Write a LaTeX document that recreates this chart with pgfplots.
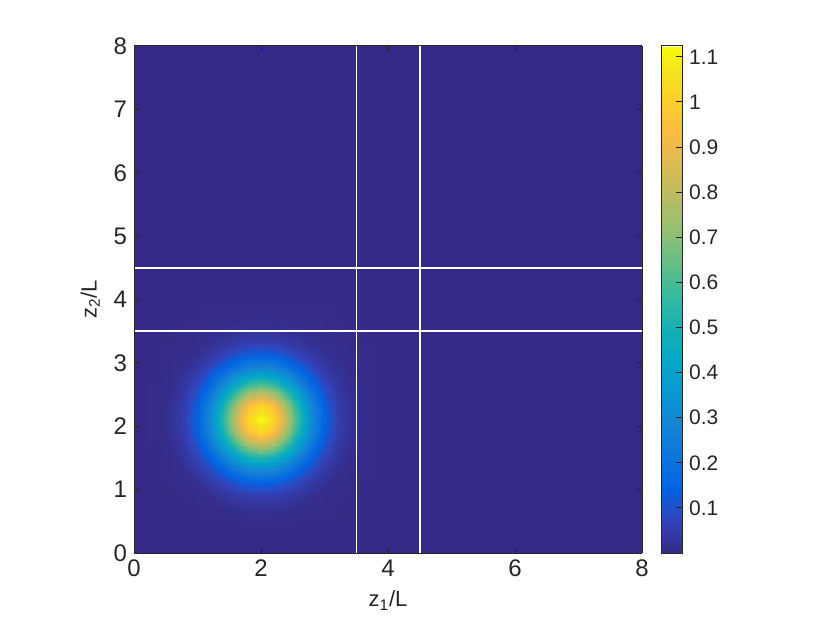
\documentclass[border=0pt]{standalone}
\usepackage{fontspec}
\setmainfont{Liberation Sans}
\usepackage{pgfplots}
\pgfplotsset{compat=1.18}
\usepgfplotslibrary{patchplots}
\pgfplotsset{/pgf/number format/assume math mode=true}
\definecolor{axgray}{RGB}{38,38,38}
\begin{document}
\begin{tikzpicture}
\path[use as bounding box] (0,0) rectangle (415pt,311.5pt);
\begin{axis}[
  at={(67pt,35pt)}, anchor=south west,
  scale only axis, width=254pt, height=253.5pt,
  view={0}{90},
  xmin=0, xmax=8, ymin=0, ymax=8,
  xtick={0,2,4,6,8}, ytick={0,1,2,3,4,5,6,7,8},
  tick align=inside,
  major tick length=2.5pt,
  axis on top,
  axis line style={draw=axgray, line width=0.5pt},
  every tick/.style={axgray, line width=0.5pt},
  ticklabel style={font=\fontsize{12}{14}\selectfont, text=axgray},
  xlabel={z\textsubscript{1}/L}, ylabel={z\textsubscript{2}/L},
  label style={font=\fontsize{11}{13}\selectfont, text=axgray},
  colormap={parula}{
    rgb(0cm)=(0.2081,0.1663,0.5292)
    rgb(4cm)=(0.1959,0.2645,0.7279)
    rgb(8cm)=(0.0117,0.3875,0.8820)
    rgb(12cm)=(0.0498,0.4586,0.8641)
    rgb(16cm)=(0.0793,0.5200,0.8312)
    rgb(20cm)=(0.0343,0.5966,0.8199)
    rgb(24cm)=(0.0228,0.6535,0.7768)
    rgb(28cm)=(0.0843,0.6928,0.7062)
    rgb(32cm)=(0.2178,0.7250,0.6193)
    rgb(36cm)=(0.3953,0.7459,0.5244)
    rgb(40cm)=(0.5709,0.7485,0.4494)
    rgb(44cm)=(0.7184,0.7411,0.3905)
    rgb(48cm)=(0.8507,0.7299,0.3360)
    rgb(52cm)=(0.9739,0.7314,0.2666)
    rgb(56cm)=(0.9880,0.8066,0.1794)
    rgb(60cm)=(0.9589,0.8949,0.1132)
    rgb(63cm)=(0.9763,0.9831,0.0538)
  },
  point meta min=0, point meta max=1.124,
  colorbar,
  colorbar style={
    at={(parent axis.north east)}, anchor=north west, xshift=1pt,
    width=10.5pt,
    ytick={0.1,0.2,0.3,0.4,0.5,0.6,0.7,0.8,0.9,1,1.1},
    ytick pos=right,
    tick align=inside,
    major tick length=3pt,
    axis line style={draw=axgray, line width=0.5pt},
    every tick/.style={axgray, line width=0.5pt},
    yticklabel style={font=\fontsize{10.5}{12}\selectfont, text=axgray},
  },
]
% background field (value 0)
\addplot3[surf, shader=flat, mesh/cols=2] coordinates {(0,0,0) (8,0,0) (0,8,0) (8,8,0)};
% blob
\addplot3[surf, shader=interp, patch type=bilinear, mesh/cols=19] coordinates {
(0.2,0.3,0) (0.4,0.3,0) (0.6,0.3,0) (0.8,0.3,0.0001) (1.0,0.3,0.0002) (1.2,0.3,0.0004) (1.4,0.3,0.0007) (1.6,0.3,0.0011) (1.8,0.3,0.0014) (2.0,0.3,0.0015) (2.2,0.3,0.0014) (2.4,0.3,0.0011) (2.6,0.3,0.0007) (2.8,0.3,0.0004) (3.0,0.3,0.0002) (3.2,0.3,0.0001) (3.4,0.3,0) (3.6,0.3,0) (3.8,0.3,0)
(0.2,0.5,0) (0.4,0.5,0) (0.6,0.5,0.0001) (0.8,0.5,0.0003) (1.0,0.5,0.0008) (1.2,0.5,0.0016) (1.4,0.5,0.0029) (1.6,0.5,0.0044) (1.8,0.5,0.0056) (2.0,0.5,0.0060) (2.2,0.5,0.0056) (2.4,0.5,0.0044) (2.6,0.5,0.0029) (2.8,0.5,0.0016) (3.0,0.5,0.0008) (3.2,0.5,0.0003) (3.4,0.5,0.0001) (3.6,0.5,0) (3.8,0.5,0)
(0.2,0.7,0) (0.4,0.7,0.0001) (0.6,0.7,0.0004) (0.8,0.7,0.0011) (1.0,0.7,0.0027) (1.2,0.7,0.0056) (1.4,0.7,0.0099) (1.6,0.7,0.0149) (1.8,0.7,0.0190) (2.0,0.7,0.0206) (2.2,0.7,0.0190) (2.4,0.7,0.0149) (2.6,0.7,0.0099) (2.8,0.7,0.0056) (3.0,0.7,0.0027) (3.2,0.7,0.0011) (3.4,0.7,0.0004) (3.6,0.7,0.0001) (3.8,0.7,0)
(0.2,0.9,0.0001) (0.4,0.9,0.0003) (0.6,0.9,0.0011) (0.8,0.9,0.0031) (1.0,0.9,0.0077) (1.2,0.9,0.0161) (1.4,0.9,0.0285) (1.6,0.9,0.0429) (1.8,0.9,0.0548) (2.0,0.9,0.0595) (2.2,0.9,0.0548) (2.4,0.9,0.0429) (2.6,0.9,0.0285) (2.8,0.9,0.0161) (3.0,0.9,0.0077) (3.2,0.9,0.0031) (3.4,0.9,0.0011) (3.6,0.9,0.0003) (3.8,0.9,0.0001)
(0.2,1.1,0.0002) (0.4,1.1,0.0008) (0.6,1.1,0.0027) (0.8,1.1,0.0077) (1.0,1.1,0.0190) (1.2,1.1,0.0396) (1.4,1.1,0.0700) (1.6,1.1,0.1053) (1.8,1.1,0.1346) (2.0,1.1,0.1460) (2.2,1.1,0.1346) (2.4,1.1,0.1053) (2.6,1.1,0.0700) (2.8,1.1,0.0396) (3.0,1.1,0.0190) (3.2,1.1,0.0077) (3.4,1.1,0.0027) (3.6,1.1,0.0008) (3.8,1.1,0.0002)
(0.2,1.3,0.0004) (0.4,1.3,0.0016) (0.6,1.3,0.0056) (0.8,1.3,0.0161) (1.0,1.3,0.0396) (1.2,1.3,0.0825) (1.4,1.3,0.1460) (1.6,1.3,0.2197) (1.8,1.3,0.2806) (2.0,1.3,0.3045) (2.2,1.3,0.2806) (2.4,1.3,0.2197) (2.6,1.3,0.1460) (2.8,1.3,0.0825) (3.0,1.3,0.0396) (3.2,1.3,0.0161) (3.4,1.3,0.0056) (3.6,1.3,0.0016) (3.8,1.3,0.0004)
(0.2,1.5,0.0007) (0.4,1.5,0.0029) (0.6,1.5,0.0099) (0.8,1.5,0.0285) (1.0,1.5,0.0700) (1.2,1.5,0.1460) (1.4,1.5,0.2586) (1.6,1.5,0.3889) (1.8,1.5,0.4969) (2.0,1.5,0.5391) (2.2,1.5,0.4969) (2.4,1.5,0.3889) (2.6,1.5,0.2586) (2.8,1.5,0.1460) (3.0,1.5,0.0700) (3.2,1.5,0.0285) (3.4,1.5,0.0099) (3.6,1.5,0.0029) (3.8,1.5,0.0007)
(0.2,1.7,0.0011) (0.4,1.7,0.0044) (0.6,1.7,0.0149) (0.8,1.7,0.0429) (1.0,1.7,0.1053) (1.2,1.7,0.2197) (1.4,1.7,0.3889) (1.6,1.7,0.5850) (1.8,1.7,0.7473) (2.0,1.7,0.8109) (2.2,1.7,0.7473) (2.4,1.7,0.5850) (2.6,1.7,0.3889) (2.8,1.7,0.2197) (3.0,1.7,0.1053) (3.2,1.7,0.0429) (3.4,1.7,0.0149) (3.6,1.7,0.0044) (3.8,1.7,0.0011)
(0.2,1.9,0.0014) (0.4,1.9,0.0056) (0.6,1.9,0.0190) (0.8,1.9,0.0548) (1.0,1.9,0.1346) (1.2,1.9,0.2806) (1.4,1.9,0.4969) (1.6,1.9,0.7473) (1.8,1.9,0.9547) (2.0,1.9,1.0359) (2.2,1.9,0.9547) (2.4,1.9,0.7473) (2.6,1.9,0.4969) (2.8,1.9,0.2806) (3.0,1.9,0.1346) (3.2,1.9,0.0548) (3.4,1.9,0.0190) (3.6,1.9,0.0056) (3.8,1.9,0.0014)
(0.2,2.1,0.0015) (0.4,2.1,0.0060) (0.6,2.1,0.0206) (0.8,2.1,0.0595) (1.0,2.1,0.1460) (1.2,2.1,0.3045) (1.4,2.1,0.5391) (1.6,2.1,0.8109) (1.8,2.1,1.0359) (2.0,2.1,1.1240) (2.2,2.1,1.0359) (2.4,2.1,0.8109) (2.6,2.1,0.5391) (2.8,2.1,0.3045) (3.0,2.1,0.1460) (3.2,2.1,0.0595) (3.4,2.1,0.0206) (3.6,2.1,0.0060) (3.8,2.1,0.0015)
(0.2,2.3,0.0014) (0.4,2.3,0.0056) (0.6,2.3,0.0190) (0.8,2.3,0.0548) (1.0,2.3,0.1346) (1.2,2.3,0.2806) (1.4,2.3,0.4969) (1.6,2.3,0.7473) (1.8,2.3,0.9547) (2.0,2.3,1.0359) (2.2,2.3,0.9547) (2.4,2.3,0.7473) (2.6,2.3,0.4969) (2.8,2.3,0.2806) (3.0,2.3,0.1346) (3.2,2.3,0.0548) (3.4,2.3,0.0190) (3.6,2.3,0.0056) (3.8,2.3,0.0014)
(0.2,2.5,0.0011) (0.4,2.5,0.0044) (0.6,2.5,0.0149) (0.8,2.5,0.0429) (1.0,2.5,0.1053) (1.2,2.5,0.2197) (1.4,2.5,0.3889) (1.6,2.5,0.5850) (1.8,2.5,0.7473) (2.0,2.5,0.8109) (2.2,2.5,0.7473) (2.4,2.5,0.5850) (2.6,2.5,0.3889) (2.8,2.5,0.2197) (3.0,2.5,0.1053) (3.2,2.5,0.0429) (3.4,2.5,0.0149) (3.6,2.5,0.0044) (3.8,2.5,0.0011)
(0.2,2.7,0.0007) (0.4,2.7,0.0029) (0.6,2.7,0.0099) (0.8,2.7,0.0285) (1.0,2.7,0.0700) (1.2,2.7,0.1460) (1.4,2.7,0.2586) (1.6,2.7,0.3889) (1.8,2.7,0.4969) (2.0,2.7,0.5391) (2.2,2.7,0.4969) (2.4,2.7,0.3889) (2.6,2.7,0.2586) (2.8,2.7,0.1460) (3.0,2.7,0.0700) (3.2,2.7,0.0285) (3.4,2.7,0.0099) (3.6,2.7,0.0029) (3.8,2.7,0.0007)
(0.2,2.9,0.0004) (0.4,2.9,0.0016) (0.6,2.9,0.0056) (0.8,2.9,0.0161) (1.0,2.9,0.0396) (1.2,2.9,0.0825) (1.4,2.9,0.1460) (1.6,2.9,0.2197) (1.8,2.9,0.2806) (2.0,2.9,0.3045) (2.2,2.9,0.2806) (2.4,2.9,0.2197) (2.6,2.9,0.1460) (2.8,2.9,0.0825) (3.0,2.9,0.0396) (3.2,2.9,0.0161) (3.4,2.9,0.0056) (3.6,2.9,0.0016) (3.8,2.9,0.0004)
(0.2,3.1,0.0002) (0.4,3.1,0.0008) (0.6,3.1,0.0027) (0.8,3.1,0.0077) (1.0,3.1,0.0190) (1.2,3.1,0.0396) (1.4,3.1,0.0700) (1.6,3.1,0.1053) (1.8,3.1,0.1346) (2.0,3.1,0.1460) (2.2,3.1,0.1346) (2.4,3.1,0.1053) (2.6,3.1,0.0700) (2.8,3.1,0.0396) (3.0,3.1,0.0190) (3.2,3.1,0.0077) (3.4,3.1,0.0027) (3.6,3.1,0.0008) (3.8,3.1,0.0002)
(0.2,3.3,0.0001) (0.4,3.3,0.0003) (0.6,3.3,0.0011) (0.8,3.3,0.0031) (1.0,3.3,0.0077) (1.2,3.3,0.0161) (1.4,3.3,0.0285) (1.6,3.3,0.0429) (1.8,3.3,0.0548) (2.0,3.3,0.0595) (2.2,3.3,0.0548) (2.4,3.3,0.0429) (2.6,3.3,0.0285) (2.8,3.3,0.0161) (3.0,3.3,0.0077) (3.2,3.3,0.0031) (3.4,3.3,0.0011) (3.6,3.3,0.0003) (3.8,3.3,0.0001)
(0.2,3.5,0) (0.4,3.5,0.0001) (0.6,3.5,0.0004) (0.8,3.5,0.0011) (1.0,3.5,0.0027) (1.2,3.5,0.0056) (1.4,3.5,0.0099) (1.6,3.5,0.0149) (1.8,3.5,0.0190) (2.0,3.5,0.0206) (2.2,3.5,0.0190) (2.4,3.5,0.0149) (2.6,3.5,0.0099) (2.8,3.5,0.0056) (3.0,3.5,0.0027) (3.2,3.5,0.0011) (3.4,3.5,0.0004) (3.6,3.5,0.0001) (3.8,3.5,0)
(0.2,3.7,0) (0.4,3.7,0) (0.6,3.7,0.0001) (0.8,3.7,0.0003) (1.0,3.7,0.0008) (1.2,3.7,0.0016) (1.4,3.7,0.0029) (1.6,3.7,0.0044) (1.8,3.7,0.0056) (2.0,3.7,0.0060) (2.2,3.7,0.0056) (2.4,3.7,0.0044) (2.6,3.7,0.0029) (2.8,3.7,0.0016) (3.0,3.7,0.0008) (3.2,3.7,0.0003) (3.4,3.7,0.0001) (3.6,3.7,0) (3.8,3.7,0)
(0.2,3.9,0) (0.4,3.9,0) (0.6,3.9,0) (0.8,3.9,0.0001) (1.0,3.9,0.0002) (1.2,3.9,0.0004) (1.4,3.9,0.0007) (1.6,3.9,0.0011) (1.8,3.9,0.0014) (2.0,3.9,0.0015) (2.2,3.9,0.0014) (2.4,3.9,0.0011) (2.6,3.9,0.0007) (2.8,3.9,0.0004) (3.0,3.9,0.0002) (3.2,3.9,0.0001) (3.4,3.9,0) (3.6,3.9,0) (3.8,3.9,0)
};
% white divider lines
\addplot3[white, line width=0.75pt, no marks] coordinates {(3.5,0,1.2) (3.5,8,1.2)};
\addplot3[white, line width=0.75pt, no marks] coordinates {(4.5,0,1.2) (4.5,8,1.2)};
\addplot3[white, line width=0.75pt, no marks] coordinates {(0,3.5,1.2) (8,3.5,1.2)};
\addplot3[white, line width=0.75pt, no marks] coordinates {(0,4.5,1.2) (8,4.5,1.2)};
\end{axis}
\end{tikzpicture}
\end{document}
